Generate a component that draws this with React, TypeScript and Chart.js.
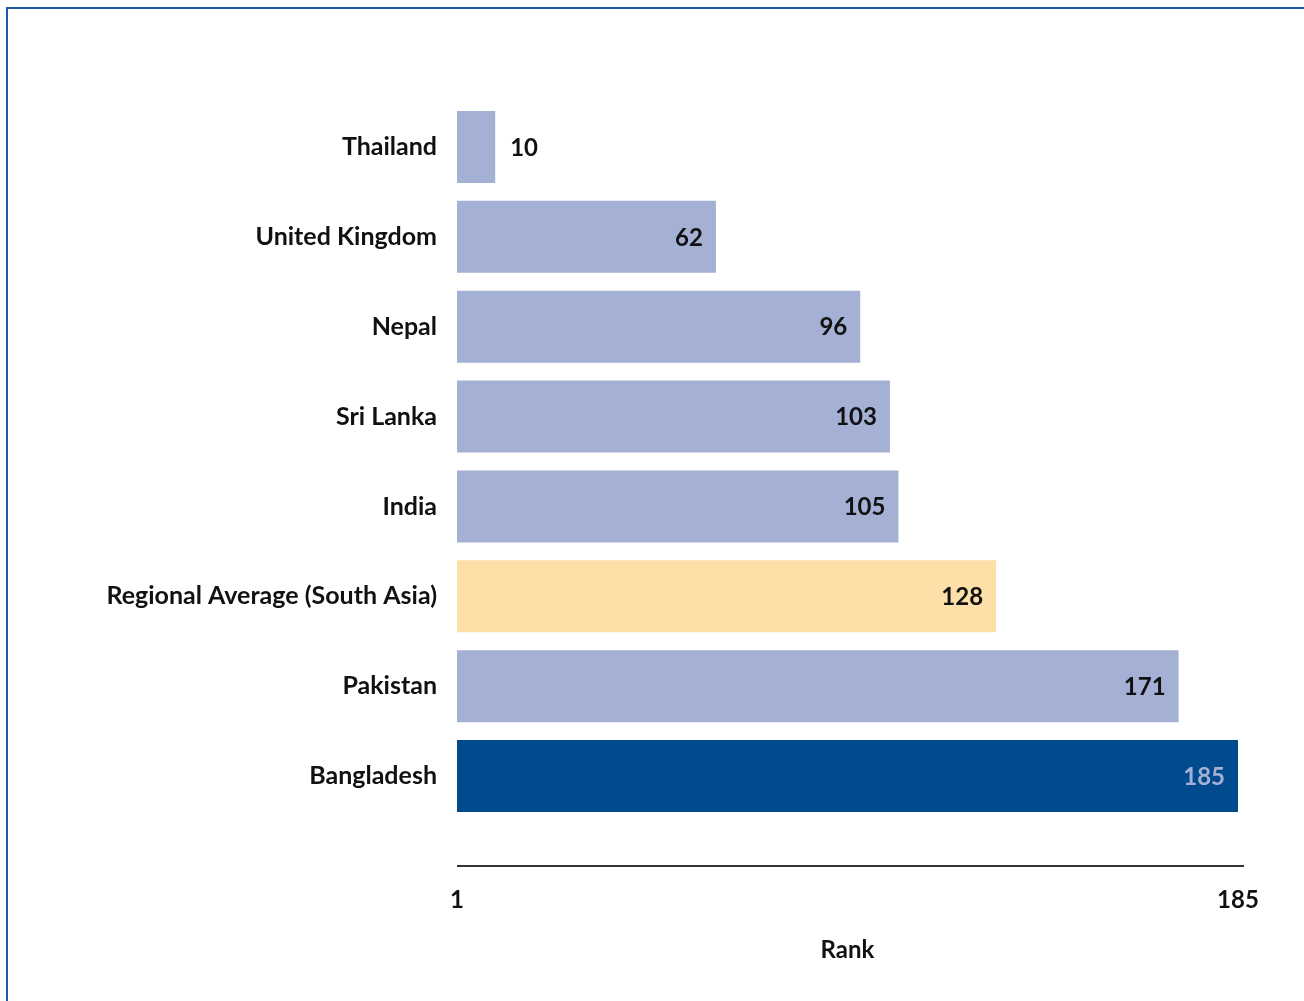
import React, { useEffect, useRef } from "react";
import { Chart, registerables } from "chart.js";

Chart.register(...registerables);

const categories = [
  "Thailand",
  "United Kingdom",
  "Nepal",
  "Sri Lanka",
  "India",
  "Regional Average (South Asia)",
  "Pakistan",
  "Bangladesh",
];
const ranks = [10, 62, 96, 103, 105, 128, 171, 185];
const barColors = ["#a4b0d4", "#a4b0d4", "#a4b0d4", "#a4b0d4", "#a4b0d4", "#fddfa8", "#a4b0d4", "#004b8d"];
const labelColors = ["#111111", "#111111", "#111111", "#111111", "#111111", "#111111", "#111111", "#a4b0d4"];
const tickValues = [1, 185];
const axisTitle = "Rank";

const FONT = "Lato, 'Noto Sans', sans-serif";

const valueLabels = {
  id: "valueLabels",
  afterDatasetsDraw(chart: any) {
    const ctx = chart.ctx;
    const meta = chart.getDatasetMeta(0);
    ctx.save();
    ctx.font = `bold 24px ${FONT}`;
    ctx.textBaseline = "middle";
    meta.data.forEach((bar: any, i: number) => {
      const text = String(ranks[i]);
      const w = ctx.measureText(text).width;
      const barW = bar.x - bar.base;
      if (barW < w + 30) {
        ctx.textAlign = "left";
        ctx.fillStyle = "#111111";
        ctx.fillText(text, bar.x + 15, bar.y + 1);
      } else {
        ctx.textAlign = "right";
        ctx.fillStyle = labelColors[i];
        ctx.fillText(text, bar.x - 13, bar.y + 1);
      }
    });
    ctx.restore();
  },
};

const axisLine = {
  id: "axisLine",
  afterDraw(chart: any) {
    const ctx = chart.ctx;
    const xs = chart.scales.x;
    const y = chart.chartArea.bottom + 45;
    ctx.save();
    ctx.strokeStyle = "#333333";
    ctx.lineWidth = 2;
    ctx.beginPath();
    ctx.moveTo(xs.left, y);
    ctx.lineTo(xs.right + 6, y);
    ctx.stroke();
    ctx.restore();
  },
};

export default function App() {
  const ref = useRef<HTMLCanvasElement>(null);
  useEffect(() => {
    document.body.style.margin = "0";
    const chart = new Chart(ref.current!, {
      type: "bar",
      data: {
        labels: categories,
        datasets: [
          {
            data: ranks,
            base: 1,
            backgroundColor: barColors,
            borderWidth: 0,
            barPercentage: 0.8,
            categoryPercentage: 1,
          } as any,
        ],
      },
      options: {
        indexAxis: "y",
        animation: false,
        responsive: false,
        maintainAspectRatio: false,
        layout: { padding: { top: 102, right: 66, left: 0, bottom: 0 } },
        plugins: { legend: { display: false }, tooltip: { enabled: false } },
        scales: {
          x: {
            type: "linear",
            min: 1,
            max: 185,
            grid: { display: false, drawTicks: false },
            border: { display: false },
            afterBuildTicks: (s: any) => {
              s.ticks = tickValues.map((v) => ({ value: v }));
            },
            afterFit: (s: any) => {
              s.height = 180;
              s.paddingLeft = 0;
              s.paddingRight = 0;
            },
            ticks: {
              padding: 65,
              color: "#111111",
              font: { family: FONT, size: 24, weight: "bold" },
              maxRotation: 0,
              autoSkip: false,
            },
            title: {
              display: true,
              text: axisTitle,
              color: "#111111",
              font: { family: FONT, size: 24, weight: "bold" },
              padding: { top: 0, bottom: 36 },
            },
          },
          y: {
            grid: { display: false, drawTicks: false },
            border: { display: false },
            afterFit: (s: any) => {
              s.width = 457;
            },
            ticks: {
              padding: 20,
              color: "#111111",
              font: { family: FONT, size: 25, weight: "bold" },
            },
          },
        },
      },
      plugins: [valueLabels, axisLine],
    });
    return () => chart.destroy();
  }, []);
  return (
    <div style={{ position: "relative", width: 1304, height: 1001, overflow: "hidden" }}>
      <div
        style={{
          position: "absolute",
          left: 6,
          top: 7,
          width: 1400,
          height: 1100,
          borderTop: "2px solid #1d5aa5",
          borderLeft: "2px solid #1d5aa5",
        }}
      />
      <canvas ref={ref} width={1304} height={1001} style={{ position: "absolute", left: 0, top: 0, width: 1304, height: 1001 }} />
    </div>
  );
}
